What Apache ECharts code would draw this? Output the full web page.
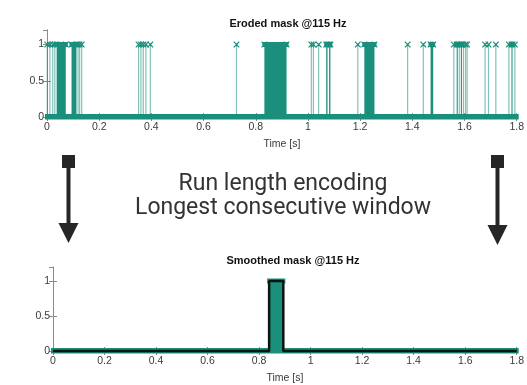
<!DOCTYPE html>
<html>
<head>
<meta charset="utf-8">
<script src="https://cdn.jsdelivr.net/npm/echarts@6/dist/echarts.min.js"></script>
<style>
  html, body { margin: 0; padding: 0; background: #fff; }
  #chart { width: 527px; height: 385px; }
</style>
</head>
<body>
<div id="chart"></div>
<script>
// Time axis (seconds) and mask axis
const xTicks = [0, 0.2, 0.4, 0.6, 0.8, 1, 1.2, 1.4, 1.6, 1.8];
const yTicks = [0, 0.5, 1];
const yTop = 1.2;

// Eroded mask: runs where the mask is 1 (start, end in seconds)
const erodedStart = [0.001, 0.011, 0.022, 0.030, 0.037, 0.094, 0.119, 0.125, 0.133,
  0.351, 0.360, 0.369, 0.379, 0.396, 0.726, 0.833,
  1.013, 1.021, 1.041, 1.070, 1.081, 1.191, 1.216, 1.382, 1.442, 1.470,
  1.559, 1.570, 1.580, 1.586, 1.596, 1.604, 1.610,
  1.679, 1.692, 1.720, 1.770, 1.780, 1.793];
const erodedEnd = [0.001, 0.011, 0.022, 0.030, 0.072, 0.113, 0.119, 0.125, 0.133,
  0.351, 0.360, 0.369, 0.379, 0.396, 0.726, 0.918,
  1.013, 1.021, 1.041, 1.075, 1.086, 1.191, 1.255, 1.382, 1.442, 1.480,
  1.562, 1.574, 1.580, 1.590, 1.598, 1.604, 1.610,
  1.679, 1.692, 1.720, 1.772, 1.784, 1.796];

// Smoothed mask: longest consecutive window, as a step signal
const smoothT = [0, 0.839, 0.894, 1.8];
const smoothV = [0, 1, 0, 0];

const teal = '#1a8f7b';
const tealLight = 'rgba(26,143,123,0.55)';
const axisGray = '#8a8a8a';
const labelColor = '#3a3a3a';

const erodedRuns = erodedStart.map((s, i) => [s, erodedEnd[i]]);
const smoothRuns = [];
for (let i = 0; i < smoothT.length - 1; i++) {
  if (smoothV[i] === 1) smoothRuns.push([smoothT[i], smoothT[i + 1]]);
}
const fullSpan = [[xTicks[0], xTicks[xTicks.length - 1]]];

function crossMark(cx, cy, r, color) {
  return {
    type: 'polyline', silent: true,
    shape: { points: [[cx - r, cy - r], [cx + r, cy + r], [cx, cy], [cx + r, cy - r], [cx - r, cy + r]] },
    style: { stroke: color, lineWidth: 1.2, fill: null }
  };
}

// Stems of value 1: thin line for a lone sample, filled block for a run
function makeRunRenderer(withMarks) {
  return function (params, api) {
    const a = api.coord([api.value(0), 1]);
    const b = api.coord([api.value(1), 0]);
    const w = b[0] - a[0];
    const children = [];
    if (w < 1) {
      children.push({
        type: 'line', silent: true,
        shape: { x1: a[0], y1: a[1], x2: a[0], y2: b[1] },
        style: { stroke: tealLight, lineWidth: 1.2 }
      });
      if (withMarks) children.push(crossMark(a[0], a[1], 2.8, teal));
    } else {
      children.push({
        type: 'rect', silent: true,
        shape: { x: a[0], y: a[1], width: w, height: b[1] - a[1] },
        style: { fill: teal }
      });
      children.push({
        type: 'rect', silent: true,
        shape: { x: a[0] - 2, y: a[1] - 2.5, width: w + 4, height: 5 },
        style: { fill: teal }
      });
      if (withMarks) {
        children.push(crossMark(a[0], a[1], 2.8, teal));
        children.push(crossMark(b[0], a[1], 2.8, teal));
      }
    }
    return { type: 'group', children };
  };
}

// Row of zero-valued markers, drawn as a thick band on the 0 line
function renderZeroBand(params, api) {
  const a = api.coord([api.value(0), 0]);
  const b = api.coord([api.value(1), 0]);
  return {
    type: 'rect', silent: true,
    shape: { x: a[0] - 2, y: a[1] - 3, width: b[0] - a[0] + 4, height: 5.5 },
    style: { fill: teal }
  };
}

function xAxisPair(gridIndex) {
  const common = {
    type: 'value', gridIndex, min: xTicks[0], max: xTicks[xTicks.length - 1], interval: 0.2,
    axisLine: { show: true, lineStyle: { color: axisGray, width: 1 } },
    axisTick: { show: true, inside: true, length: 4, lineStyle: { color: axisGray } },
    splitLine: { show: false }
  };
  return [
    Object.assign({}, common, {
      position: 'bottom',
      name: 'Time [s]', nameLocation: 'middle', nameGap: 22,
      nameTextStyle: { color: labelColor, fontSize: 10.5, fontFamily: 'Liberation Sans' },
      axisLabel: { color: labelColor, fontSize: 10.5, fontFamily: 'Liberation Sans', margin: 5,
        formatter: v => String(+v.toFixed(1)) }
    }),
    Object.assign({}, common, { position: 'top', axisLabel: { show: false } })
  ];
}

function yAxisPair(gridIndex) {
  const common = {
    type: 'value', gridIndex, min: yTicks[0], max: yTop, interval: 0.5,
    axisLine: { show: true, lineStyle: { color: axisGray, width: 1 } },
    axisTick: { show: true, inside: true, length: 4, lineStyle: { color: axisGray } },
    splitLine: { show: false }
  };
  return [
    Object.assign({}, common, {
      position: 'left',
      axisLabel: { color: labelColor, fontSize: 10.5, fontFamily: 'Liberation Sans', margin: 3,
        showMaxLabel: false, formatter: v => (yTicks.indexOf(+v.toFixed(2)) >= 0 ? String(+v.toFixed(2)) : '') }
    }),
    Object.assign({}, common, { position: 'right', axisLabel: { show: false } })
  ];
}

const chart = echarts.init(document.getElementById('chart'), null, { renderer: 'canvas' });

const arrowColor = '#262626';

chart.setOption({
  animation: false,
  backgroundColor: '#fff',
  title: [
    { text: 'Eroded mask @115 Hz', left: 283, top: 13, textAlign: 'center',
      textStyle: { fontSize: 11, fontWeight: 'bold', color: '#111', fontFamily: 'Liberation Sans' } },
    { text: 'Smoothed mask @115 Hz', left: 288, top: 250, textAlign: 'center',
      textStyle: { fontSize: 11, fontWeight: 'bold', color: '#111', fontFamily: 'Liberation Sans' } }
  ],
  grid: [
    { left: 47, right: 7, top: 30, height: 87, show: false },
    { left: 53, right: 5, top: 267, height: 87, show: false }
  ],
  xAxis: [...xAxisPair(0), ...xAxisPair(1)],
  yAxis: [...yAxisPair(0), ...yAxisPair(1)],
  series: [
    { type: 'custom', xAxisIndex: 0, yAxisIndex: 0, clip: false,
      renderItem: renderZeroBand, data: fullSpan, encode: { x: [0, 1] } },
    { type: 'custom', xAxisIndex: 0, yAxisIndex: 0, clip: false,
      renderItem: makeRunRenderer(true), data: erodedRuns, encode: { x: [0, 1] } },
    { type: 'custom', xAxisIndex: 2, yAxisIndex: 2, clip: false,
      renderItem: renderZeroBand, data: fullSpan, encode: { x: [0, 1] } },
    { type: 'custom', xAxisIndex: 2, yAxisIndex: 2, clip: false,
      renderItem: makeRunRenderer(false), data: smoothRuns, encode: { x: [0, 1] } },
    { type: 'line', xAxisIndex: 2, yAxisIndex: 2, step: 'end', symbol: 'none', clip: false,
      data: smoothT.map((t, i) => [t, smoothV[i]]),
      lineStyle: { color: '#0b1512', width: 2.5 }, z: 5 }
  ],
  graphic: [
    { type: 'text', silent: true,
      style: { text: 'Run length encoding', x: 283, y: 184, textAlign: 'center', textVerticalAlign: 'middle',
        font: '23px Roboto', fill: '#333' } },
    { type: 'text', silent: true,
      style: { text: 'Longest consecutive window', x: 283, y: 208, textAlign: 'center', textVerticalAlign: 'middle',
        font: '23px Roboto', fill: '#333' } },
    // left arrow
    { type: 'rect', silent: true, shape: { x: 62, y: 155, width: 13, height: 13 }, style: { fill: arrowColor } },
    { type: 'rect', silent: true, shape: { x: 66.5, y: 166, width: 4, height: 60 }, style: { fill: arrowColor } },
    { type: 'polygon', silent: true, shape: { points: [[58.5, 223], [78.5, 223], [68.5, 243]] }, style: { fill: arrowColor } },
    // right arrow
    { type: 'rect', silent: true, shape: { x: 491, y: 155, width: 13, height: 13 }, style: { fill: arrowColor } },
    { type: 'rect', silent: true, shape: { x: 495.5, y: 166, width: 4, height: 61 }, style: { fill: arrowColor } },
    { type: 'polygon', silent: true, shape: { points: [[487.5, 225], [507.5, 225], [497.5, 245]] }, style: { fill: arrowColor } }
  ]
});
</script>
</body>
</html>
